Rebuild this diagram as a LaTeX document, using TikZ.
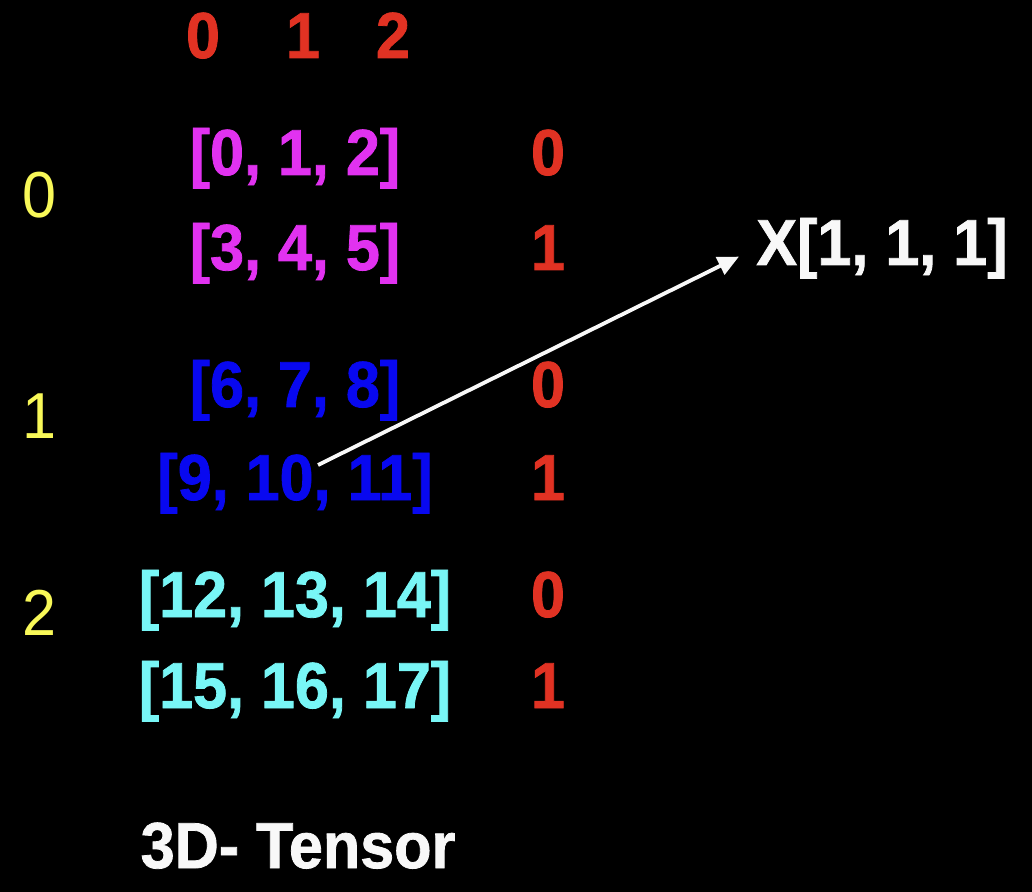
\documentclass[tikz,border=0pt]{standalone}
\usepackage{fontspec}
\setmainfont{Liberation Sans}
\newfontfamily\tensorfont[FakeStretch=0.94, BoldFeatures={FakeBold=1.2}]{Liberation Sans}
\usetikzlibrary{arrows.meta}
\definecolor{idxred}{RGB}{225,50,35}
\definecolor{idxyellow}{RGB}{248,248,88}
\definecolor{rowmag}{RGB}{225,50,240}
\definecolor{rowblue}{RGB}{8,8,240}
\definecolor{rowcyan}{RGB}{120,246,246}
\definecolor{txtwhite}{RGB}{248,248,248}

\begin{document}
\begin{tikzpicture}[x=0.5pt,y=-0.5pt,
  lbl/.style={anchor=base, inner sep=0pt, font=\tensorfont\bfseries\fontsize{32.5}{36}\selectfont},
  thin lbl/.style={anchor=base, inner sep=0pt, font=\tensorfont\fontsize{32.5}{36}\selectfont}]

  \fill[black] (0,0) rectangle (1032,892);

  %% Column indices
  \foreach \x/\z in {203/0, 303/1, 393/2}{
    \node[lbl, idxred] (c\z) at (\x,58) {\z};
  }

  %% Rows of the tensor
  \foreach \y/\t/\c/\i/\n in {175/{[0, 1, 2]}/rowmag/0/a,
                              270/{[3, 4, 5]}/rowmag/1/b,
                              407/{[6, 7, 8]}/rowblue/0/c,
                              500/{[9, 10, 11]}/rowblue/1/d,
                              617/{[12, 13, 14]}/rowcyan/0/e,
                              708/{[15, 16, 17]}/rowcyan/1/f
                              }{
    \node[lbl, \c] (row\n) at (295,\y) {\t};
    \node[lbl, idxred] (ri\n) at (548,\y) {\i};
  }

  %% Outer (matrix) indices
  \foreach \y/\z in {218/0, 438/1, 635/2}{
    \node[thin lbl, idxyellow] (m\z) at (39,\y) {\z};
  }

  \node[lbl, txtwhite] (xsel) at (882,265) {X[1, 1, 1]};
  \node[lbl, txtwhite] (title) at (298,868) {3D- Tensor};

  \coordinate (start) at (318,465);
  \draw[txtwhite, line width=1.9pt, -{Triangle[length=10.5pt,width=9.5pt]}, shorten >=9.5pt]
    (start) -- (xsel.west);

\end{tikzpicture}
\end{document}
